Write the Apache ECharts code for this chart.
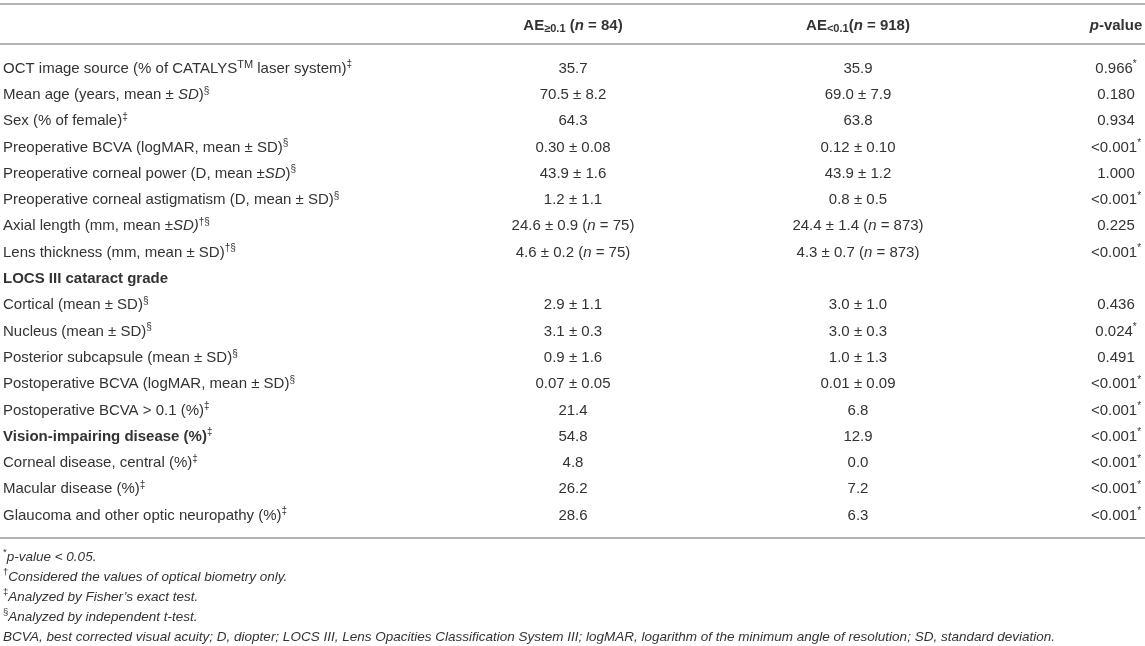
<!DOCTYPE html>
<html lang="en">
<head>
    <meta charset="UTF-8">
    <title>Table</title>
    <script src="https://cdn.jsdelivr.net/npm/echarts@6.0.0/dist/echarts.min.js"></script>
    <style>
        html, body { margin: 0; padding: 0; background: #fff; }
        #table { width: 1145px; height: 646px; }
    </style>
</head>
<body>
<div id="table"></div>
<script>
    /* row labels (rich markup: s = superscript, i = italic, b = bold) */
    var rowLabels = [
        'OCT image source (% of CATALYS{tm|TM} laser system){s|‡}',
        'Mean age (years, mean ± {i|SD}){s|§}',
        'Sex (% of female){s|‡}',
        'Preoperative BCVA (logMAR, mean ± SD){s|§}',
        'Preoperative corneal power (D, mean ±{i|SD}){s|§}',
        'Preoperative corneal astigmatism (D, mean ± SD){s|§}',
        'Axial length (mm, mean ±{i|SD)}{s|†§}',
        'Lens thickness (mm, mean ± SD){s|†§}',
        '{b|LOCS III cataract grade}',
        'Cortical (mean ± SD){s|§}',
        'Nucleus (mean ± SD){s|§}',
        'Posterior subcapsule (mean ± SD){s|§}',
        'Postoperative BCVA (logMAR, mean ± SD){s|§}',
        'Postoperative BCVA > 0.1 (%){s|‡}',
        '{b|Vision-impairing disease (%)}{s|‡}',
        'Corneal disease, central (%){s|‡}',
        'Macular disease (%){s|‡}',
        'Glaucoma and other optic neuropathy (%){s|‡}'
    ];
    var headers = [
        'AE{sub|≥0.1} ({bi|n} = 84)',
        'AE{sub|<0.1}({bi|n} = 918)',
        '{bi|p}-value'
    ];
    var aeHigh = ['35.7', '70.5 ± 8.2', '64.3', '0.30 ± 0.08', '43.9 ± 1.6', '1.2 ± 1.1',
        '24.6 ± 0.9 ({i|n} = 75)', '4.6 ± 0.2 ({i|n} = 75)', '',
        '2.9 ± 1.1', '3.1 ± 0.3', '0.9 ± 1.6', '0.07 ± 0.05', '21.4', '54.8', '4.8', '26.2', '28.6'];
    var aeLow = ['35.9', '69.0 ± 7.9', '63.8', '0.12 ± 0.10', '43.9 ± 1.2', '0.8 ± 0.5',
        '24.4 ± 1.4 ({i|n} = 873)', '4.3 ± 0.7 ({i|n} = 873)', '',
        '3.0 ± 1.0', '3.0 ± 0.3', '1.0 ± 1.3', '0.01 ± 0.09', '6.8', '12.9', '0.0', '7.2', '6.3'];
    var pValues = ['0.966{s|*}', '0.180', '0.934', '<0.001{s|*}', '1.000', '<0.001{s|*}',
        '0.225', '<0.001{s|*}', '',
        '0.436', '0.024{s|*}', '0.491', '<0.001{s|*}', '<0.001{s|*}', '<0.001{s|*}',
        '<0.001{s|*}', '<0.001{s|*}', '<0.001{s|*}'];
    var footnotes = [
        '{fs|*}{fi|p-value < 0.05.}',
        '{fs|†}{fi|Considered the values of optical biometry only.}',
        '{fs|‡}{fi|Analyzed by Fisher’s exact test.}',
        '{fs|§}{fi|Analyzed by independent t-test.}',
        '{fi|BCVA, best corrected visual acuity; D, diopter; LOCS III, Lens Opacities Classification System III; logMAR, logarithm of the minimum angle of resolution; SD, standard deviation.}'
    ];

    var FONT = '"Liberation Sans", Arial, Helvetica, sans-serif';
    var TXT = '#333';
    var RULE = '#b3b3b3';
    var FS = 15;
    var COL_X = [573, 858, 1116];

    // rich styles for echarts labels
    var labelRich = {
        i:  {fontFamily: FONT, fontSize: FS, color: TXT, fontStyle: 'italic', lineHeight: 18},
        b:  {fontFamily: FONT, fontSize: FS, color: TXT, fontWeight: 'bold', lineHeight: 18},
        s:  {fontFamily: FONT, fontSize: 10, color: TXT, lineHeight: 11, verticalAlign: 'top'},
        tm: {fontFamily: FONT, fontSize: 11, color: TXT, lineHeight: 12, verticalAlign: 'top'}
    };
    var headRich = {
        sub: {fontFamily: FONT, fontSize: 11, color: TXT, fontWeight: 'bold', lineHeight: 11, verticalAlign: 'bottom'},
        bi:  {fontFamily: FONT, fontSize: FS, color: TXT, fontWeight: 'bold', fontStyle: 'italic', lineHeight: 18}
    };
    // same thing in zrender terms for the custom cells
    var cellRich = {
        i: {fontFamily: FONT, fontSize: FS, fill: TXT, fontStyle: 'italic', lineHeight: 18},
        s: {fontFamily: FONT, fontSize: 10, fill: TXT, lineHeight: 11, verticalAlign: 'top'}
    };

    var columns = [aeHigh, aeLow, pValues];
    var cellData = [], cellText = [];
    for (var c = 0; c < columns.length; c++) {
        for (var r = 0; r < columns[c].length; r++) {
            if (!columns[c][r]) continue;
            cellData.push([COL_X[c], r]);
            cellText.push(columns[c][r]);
        }
    }

    var option = {
        backgroundColor: '#fff',
        animation: false,
        grid: {left: 0, right: 0, top: 55.4, bottom: 117.3, outerBoundsMode: 'none', containLabel: false},
        xAxis: {
            type: 'value',
            position: 'top',
            min: 0,
            max: 1145,
            axisLine: {show: false},
            axisTick: {show: false},
            splitLine: {show: false},
            axisLabel: {
                customValues: COL_X,
                margin: 30,
                verticalAlign: 'middle',
                fontFamily: FONT,
                fontSize: FS,
                fontWeight: 'bold',
                color: TXT,
                lineHeight: 18,
                rich: headRich,
                formatter: function (v) {
                    var k = COL_X.indexOf(v);
                    return k >= 0 ? headers[k] : '';
                }
            }
        },
        yAxis: {
            type: 'category',
            inverse: true,
            data: rowLabels,
            axisLine: {show: false},
            axisTick: {show: false},
            splitLine: {show: false},
            axisLabel: {
                inside: true,
                align: 'left',
                margin: 3,
                interval: 0,
                fontFamily: FONT,
                fontSize: FS,
                color: TXT,
                lineHeight: 18,
                rich: labelRich
            }
        },
        series: [{
            type: 'custom',
            silent: true,
            clip: false,
            data: cellData,
            renderItem: function (params, api) {
                var p = api.coord([api.value(0), api.value(1)]);
                return {
                    type: 'text',
                    x: p[0],
                    y: p[1],
                    style: {
                        text: cellText[params.dataIndex],
                        fontFamily: FONT,
                        fontSize: FS,
                        lineHeight: 18,
                        fill: TXT,
                        align: 'center',
                        verticalAlign: 'middle',
                        rich: cellRich
                    }
                };
            }
        }],
        graphic: [
            {type: 'line', shape: {x1: 0, y1: 4, x2: 1145, y2: 4}, style: {stroke: RULE, lineWidth: 2}},
            {type: 'line', shape: {x1: 0, y1: 44, x2: 1145, y2: 44}, style: {stroke: RULE, lineWidth: 2}},
            {type: 'line', shape: {x1: 0, y1: 538, x2: 1145, y2: 538}, style: {stroke: RULE, lineWidth: 2}},
            {
                type: 'text',
                left: 3,
                top: 547,
                style: {
                    text: footnotes.join('\n'),
                    fontFamily: FONT,
                    fontSize: 13.5,
                    lineHeight: 20,
                    fill: TXT,
                    rich: {
                        fi: {fontFamily: FONT, fontSize: 13.5, fontStyle: 'italic', fill: TXT, lineHeight: 20},
                        fs: {fontFamily: FONT, fontSize: 9.5, fill: TXT, lineHeight: 11, verticalAlign: 'top'}
                    }
                }
            }
        ]
    };

    var chart = echarts.init(document.getElementById('table'));
    chart.setOption(option);
</script>
</body>
</html>
